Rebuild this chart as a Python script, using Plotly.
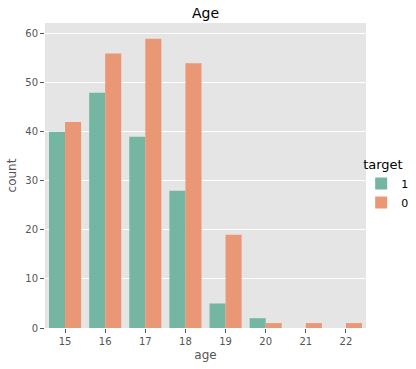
import plotly.graph_objects as go

ages = ["15", "16", "17", "18", "19", "20", "21", "22"]
count_target_1 = [40, 48, 39, 28, 5, 2, 0, 0]
count_target_0 = [42, 56, 59, 54, 19, 1, 1, 1]
y_ticks = [0, 10, 20, 30, 40, 50, 60]

fig = go.Figure()
fig.add_trace(go.Bar(x=ages, y=count_target_1, name="1", marker=dict(color="#74b6a1", line=dict(width=0))))
fig.add_trace(go.Bar(x=ages, y=count_target_0, name="0", marker=dict(color="#e99774", line=dict(width=0))))

fig.update_layout(
    width=416, height=369,
    margin=dict(l=45, r=50, t=23, b=41, autoexpand=False),
    paper_bgcolor="white",
    plot_bgcolor="#e5e5e5",
    barmode="group",
    bargap=0.2,
    bargroupgap=0,
    font=dict(family="DejaVu Sans", color="#555555", size=10),
    title=dict(text="Age", x=0.5, xanchor="center", xref="paper", y=0.965, yanchor="middle",
               font=dict(size=14, color="black")),
    legend=dict(title=dict(text="target", font=dict(size=13, color="black")),
                font=dict(size=11, color="black"),
                x=0.985, xanchor="left", y=0.47, yanchor="middle",
                bgcolor="rgba(0,0,0,0)", tracegroupgap=0, itemwidth=30),
    showlegend=True,
)
fig.update_xaxes(
    type="category", range=[-0.5, 7.5], showgrid=False, zeroline=False, automargin=False,
    ticks="outside", ticklen=4, tickcolor="#555555",
    tickfont=dict(size=10, color="#555555"),
    title=dict(text="age", font=dict(size=12, color="#555555"), standoff=4),
)
fig.update_yaxes(
    range=[0, 62.2], tickvals=y_ticks, showgrid=True, gridcolor="white", gridwidth=1,
    zeroline=False, ticks="outside", ticklen=4, tickcolor="#555555", automargin=False,
    tickfont=dict(size=10, color="#555555"),
    title=dict(text="count", font=dict(size=12, color="#555555"), standoff=6),
)
fig.write_html("out.html", config={"displayModeBar": False},
               post_script="document.body.style.margin='0';")
